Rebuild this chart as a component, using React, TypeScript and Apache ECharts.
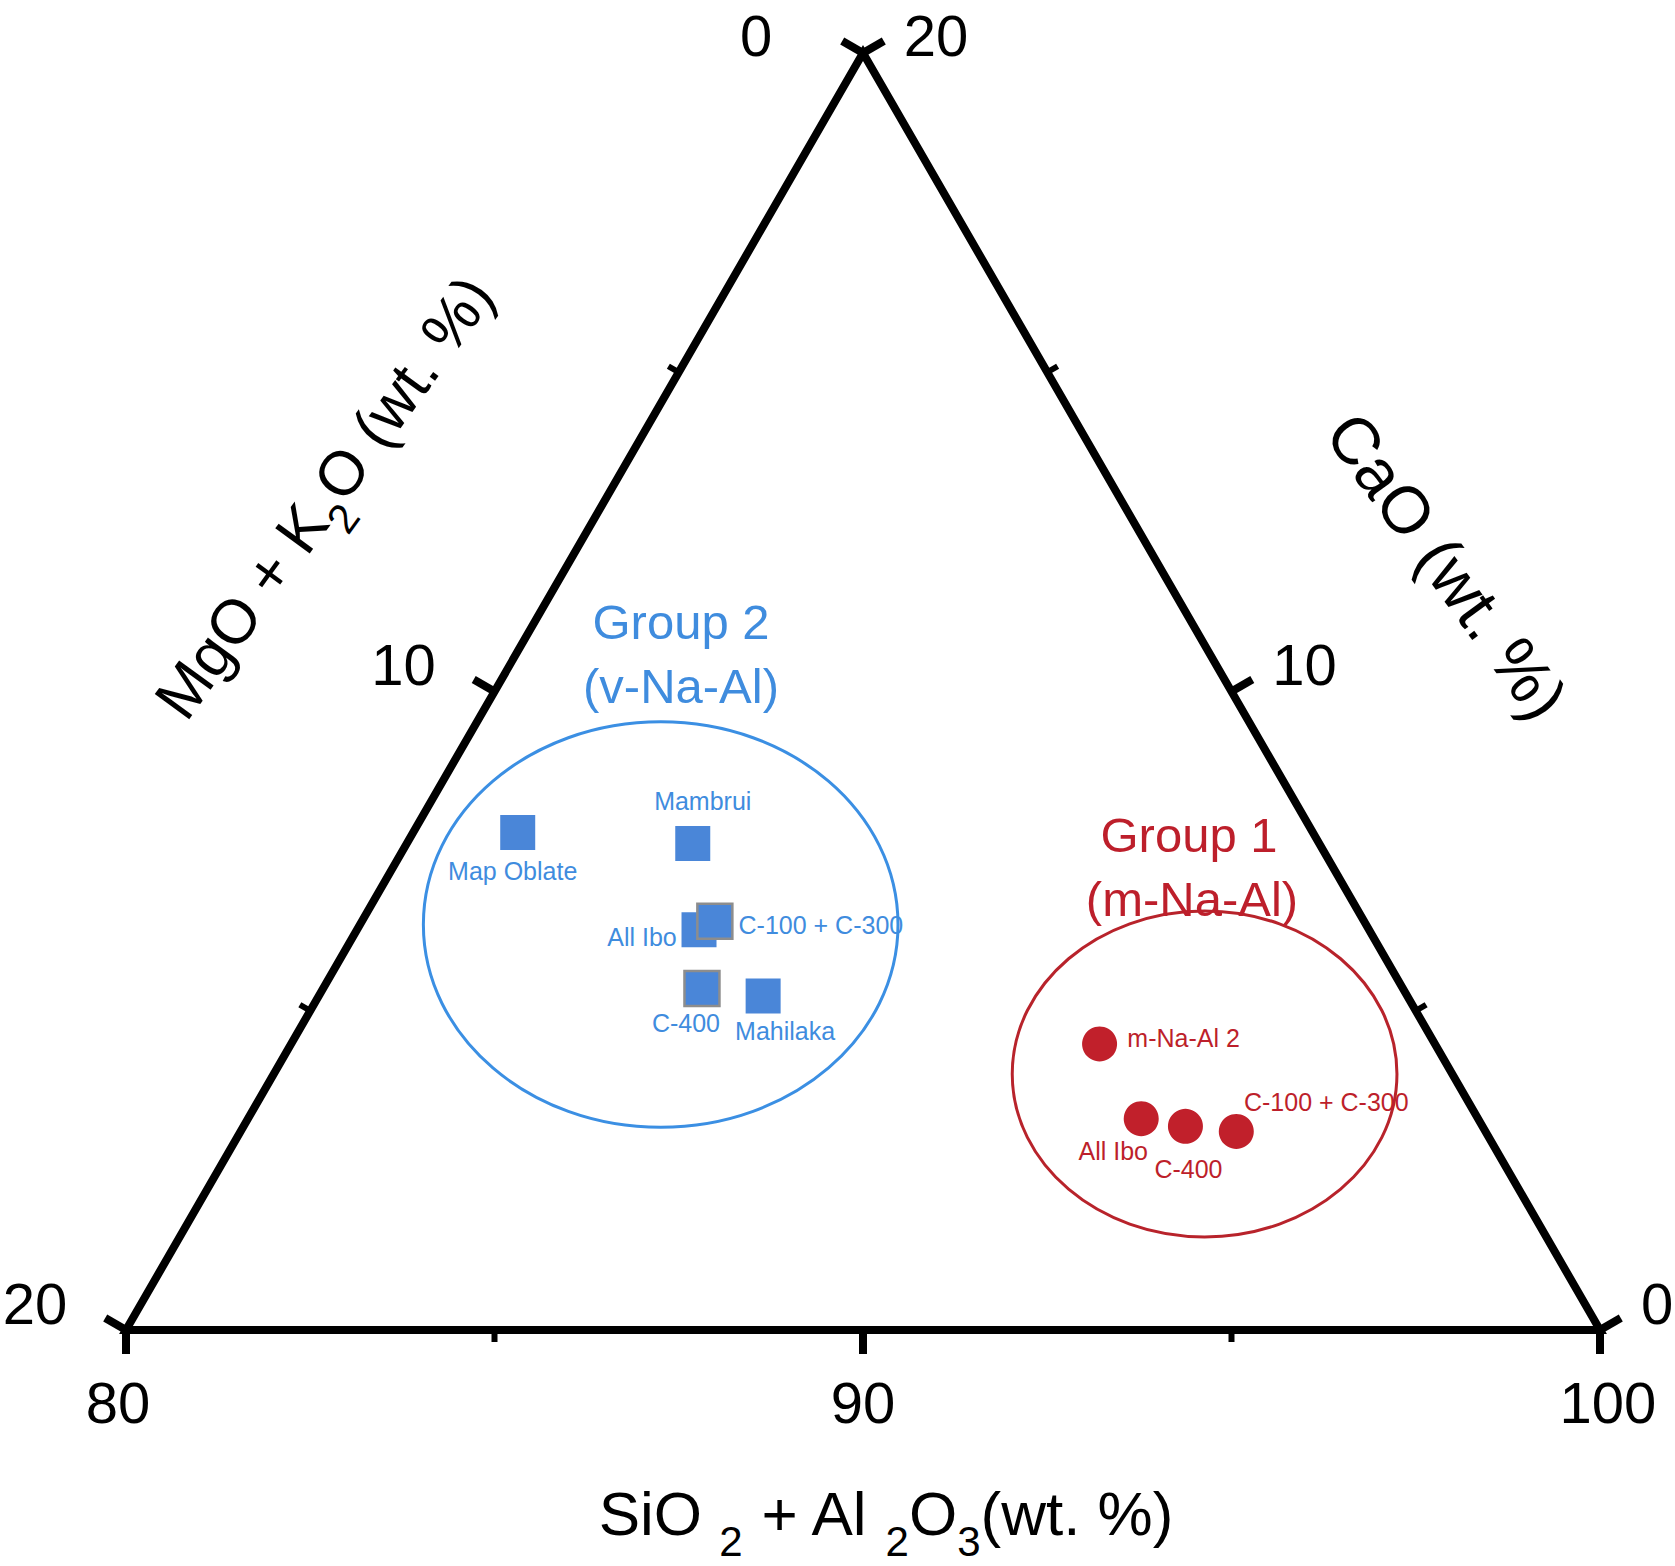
import React, { useEffect, useRef } from "react";
import * as echarts from "echarts";

const FONT = '"Liberation Sans", Arial, Helvetica, sans-serif';
const H = Math.sqrt(3) / 2;

// Axis ticks (wt. %)
const siAlTicks = [80, 85, 90, 95, 100];
const mgKTicks = [0, 5, 10, 15, 20];
const caTicks = [0, 5, 10, 15, 20];

// Group 2 (v-Na-Al) – squares
const group2Names = ["Map Oblate", "Mambrui", "All Ibo", "C-100 + C-300", "C-400", "Mahilaka"];
const group2SiAl = [81.43, 83.88, 84.64, 84.79, 85.14, 86.03];
const group2MgK = [10.79, 8.5, 9.09, 8.81, 9.51, 8.74];
const group2Ca = [7.79, 7.62, 6.27, 6.4, 5.35, 5.23];

// Group 1 (m-Na-Al) – circles
const group1Names = ["m-Na-Al 2", "All Ibo", "C-400", "C-100 + C-300"];
const group1SiAl = [90.97, 92.12, 92.78, 93.51];
const group1MgK = [4.55, 4.57, 4.03, 3.38];
const group1Ca = [4.48, 3.31, 3.19, 3.11];

// Group envelopes: centre composition and semi-axes (ternary scale units)
const envelopeSiAl = [84.08, 92.63];
const envelopeMgK = [9.57, 3.36];
const envelopeCa = [6.35, 4.01];
const envelopeSemiX = [3.22, 2.61];
const envelopeSemiY = [2.75, 2.21];

// ternary (SiO2+Al2O3, MgO+K2O, CaO) -> cartesian in wt.% units
function toXY(siAl: number, mgK: number, ca: number): [number, number] {
  return [20 - mgK - ca / 2, ca * H];
}

const BLUE_TEXT = "#3f8cde";
const BLUE_FILL = "#4a86d8";
const BLUE_LINE = "#3b8fe3";
const RED_TEXT = "#bd1f2b";
const RED_FILL = "#c1202b";
const RED_LINE = "#b8232b";

export default function App() {
  const ref = useRef<HTMLDivElement>(null);

  useEffect(() => {
    if (!ref.current) return;
    const chart = echarts.init(ref.current, undefined, { renderer: "svg" });

    const group2Offsets: Record<string, [number, number]> = {
      "Map Oblate": [-5, 38],
      Mambrui: [10, -42],
      "All Ibo": [-57, 7],
      "C-100 + C-300": [106, 4],
      "C-400": [-16, 35],
      Mahilaka: [22, 35],
    };
    const group2Outlined = new Set(["C-100 + C-300", "C-400"]);
    const group1Offsets: Record<string, [number, number]> = {
      "m-Na-Al 2": [84, -6],
      "All Ibo": [-28, 32],
      "C-400": [3, 43],
      "C-100 + C-300": [90, -29],
    };

    const frameRender = (params: any, api: any) => {
      const P = (si: number, mg: number, ca: number) => api.coord(toXY(si, mg, ca));
      const corners = [P(100, 0, 0), P(80, 20, 0), P(80, 0, 20)];
      const children: any[] = [
        {
          type: "polygon",
          shape: { points: corners },
          style: { fill: "none", stroke: "#000", lineWidth: 8, lineJoin: "miter", miterLimit: 10 },
        },
      ];
      const addTick = (
        p: number[],
        n: [number, number],
        major: boolean,
        label: string,
        dx: number,
        dy: number
      ) => {
        const len = major ? 24 : 12;
        children.push({
          type: "line",
          shape: { x1: p[0], y1: p[1], x2: p[0] + n[0] * len, y2: p[1] + n[1] * len },
          style: { stroke: "#000", lineWidth: major ? 8 : 6 },
        });
        if (major) {
          children.push({
            type: "text",
            x: p[0] + dx,
            y: p[1] + dy,
            style: {
              text: label,
              fill: "#000",
              font: `58px ${FONT}`,
              align: "center",
              verticalAlign: "middle",
              textAlign: "center",
              textVerticalAlign: "middle",
            },
          });
        }
      };
      siAlTicks.forEach((v) => {
        const p = P(v, 100 - v, 0);
        addTick(p, [0, 1], v % 10 === 0, String(v), v === 80 ? -8 : v === 100 ? 8 : 0, 72);
      });
      mgKTicks.forEach((v) => {
        const p = P(80, v, 20 - v);
        addTick(p, [-H, -0.5], v % 10 === 0, String(v), v === 0 ? -107 : -91, v === 0 ? -18 : -27);
      });
      caTicks.forEach((v) => {
        const p = P(100 - v, 0, v);
        addTick(p, [H, -0.5], v % 10 === 0, String(v), v === 0 ? 57 : 73, v === 20 ? -18 : -27);
      });
      return { type: "group", children };
    };

    const envelopeData = envelopeSiAl.map((s, i) => {
      const c = toXY(s, envelopeMgK[i], envelopeCa[i]);
      return [c[0], c[1], envelopeSemiX[i], envelopeSemiY[i], i];
    });
    const envelopeColors = [BLUE_LINE, RED_LINE];

    const envelopeRender = (params: any, api: any) => {
      const c = api.coord([api.value(0), api.value(1)]);
      const s = api.size([api.value(2), api.value(3)]);
      const idx = api.value(4);
      return {
        type: "ellipse",
        shape: { cx: c[0], cy: c[1], rx: s[0], ry: s[1] },
        style: { fill: "none", stroke: envelopeColors[idx], lineWidth: 3 },
      };
    };

    const group2Data = group2Names.map((name, i) => ({
      name,
      value: toXY(group2SiAl[i], group2MgK[i], group2Ca[i]),
      itemStyle: group2Outlined.has(name)
        ? { color: BLUE_FILL, borderColor: "#8d8d8d", borderWidth: 2.5 }
        : { color: BLUE_FILL },
      label: { offset: group2Offsets[name] },
    }));
    const group1Data = group1Names.map((name, i) => ({
      name,
      value: toXY(group1SiAl[i], group1MgK[i], group1Ca[i]),
      label: { offset: group1Offsets[name] },
    }));

    const richMain = { fontSize: 62, fontFamily: FONT, lineHeight: 62, verticalAlign: "top", fill: "#000" };
    const richSub = {
      fontSize: 42,
      fontFamily: FONT,
      lineHeight: 42,
      padding: [38, 0, 0, 0],
      verticalAlign: "top",
      fill: "#000",
    };

    const textStyle = (text: string, size: number, color: string) => ({
      text,
      fill: color,
      font: `${size}px ${FONT}`,
      align: "center",
      verticalAlign: "middle",
      textAlign: "center",
      textVerticalAlign: "middle",
    });

    const titleAngle = (54 * Math.PI) / 180;

    const option: any = {
      animation: false,
      backgroundColor: "#fff",
      grid: { left: 126, top: 53, width: 1474, height: 1277, containLabel: false },
      xAxis: { type: "value", min: 0, max: 20, show: false },
      yAxis: { type: "value", min: 0, max: 20 * H, show: false },
      series: [
        {
          type: "custom",
          coordinateSystem: "cartesian2d",
          data: [[0, 0]],
          renderItem: frameRender,
          clip: false,
          silent: true,
          z: 1,
        },
        {
          type: "custom",
          coordinateSystem: "cartesian2d",
          data: envelopeData,
          renderItem: envelopeRender,
          clip: false,
          silent: true,
          z: 2,
        },
        {
          type: "scatter",
          name: "Group 2",
          symbol: "rect",
          symbolSize: 35,
          data: group2Data,
          itemStyle: { color: BLUE_FILL, opacity: 1 },
          label: {
            show: true,
            position: "inside",
            formatter: "{b}",
            color: BLUE_TEXT,
            fontSize: 25,
            fontFamily: FONT,
          },
          z: 3,
        },
        {
          type: "scatter",
          name: "Group 1",
          symbol: "circle",
          symbolSize: 35,
          data: group1Data,
          itemStyle: { color: RED_FILL, opacity: 1 },
          label: {
            show: true,
            position: "inside",
            formatter: "{b}",
            color: RED_TEXT,
            fontSize: 25,
            fontFamily: FONT,
          },
          z: 3,
        },
      ],
      graphic: [
        {
          type: "text",
          x: 886,
          y: 1513,
          z: 10,
          style: {
            ...textStyle("{a|SiO }{s|2}{a| + Al }{s|2}{a|O}{s|3}{a|(wt. %)}", 62, "#000"),
            rich: { a: richMain, s: richSub },
          },
        },
        {
          type: "text",
          x: 324,
          y: 497,
          rotation: titleAngle,
          z: 10,
          style: {
            ...textStyle("{a|MgO + K}{s|2}{a|O (wt. %)}", 62, "#000"),
            rich: { a: richMain, s: richSub },
          },
        },
        {
          type: "text",
          x: 1447,
          y: 566,
          rotation: -titleAngle,
          z: 10,
          style: textStyle("CaO (wt. %)", 66, "#000"),
        },
        { type: "text", x: 681, y: 622, z: 10, style: textStyle("Group 2", 49, BLUE_TEXT) },
        { type: "text", x: 681, y: 686, z: 10, style: textStyle("(v-Na-Al)", 49, BLUE_TEXT) },
        { type: "text", x: 1189, y: 835, z: 10, style: textStyle("Group 1", 49, RED_TEXT) },
        { type: "text", x: 1192, y: 899, z: 10, style: textStyle("(m-Na-Al)", 49, RED_TEXT) },
      ],
    };

    chart.setOption(option);
    return () => chart.dispose();
  }, []);

  return (
    <div
      ref={ref}
      style={{ position: "fixed", left: 0, top: 0, width: 1675, height: 1566, background: "#fff" }}
    />
  );
}
